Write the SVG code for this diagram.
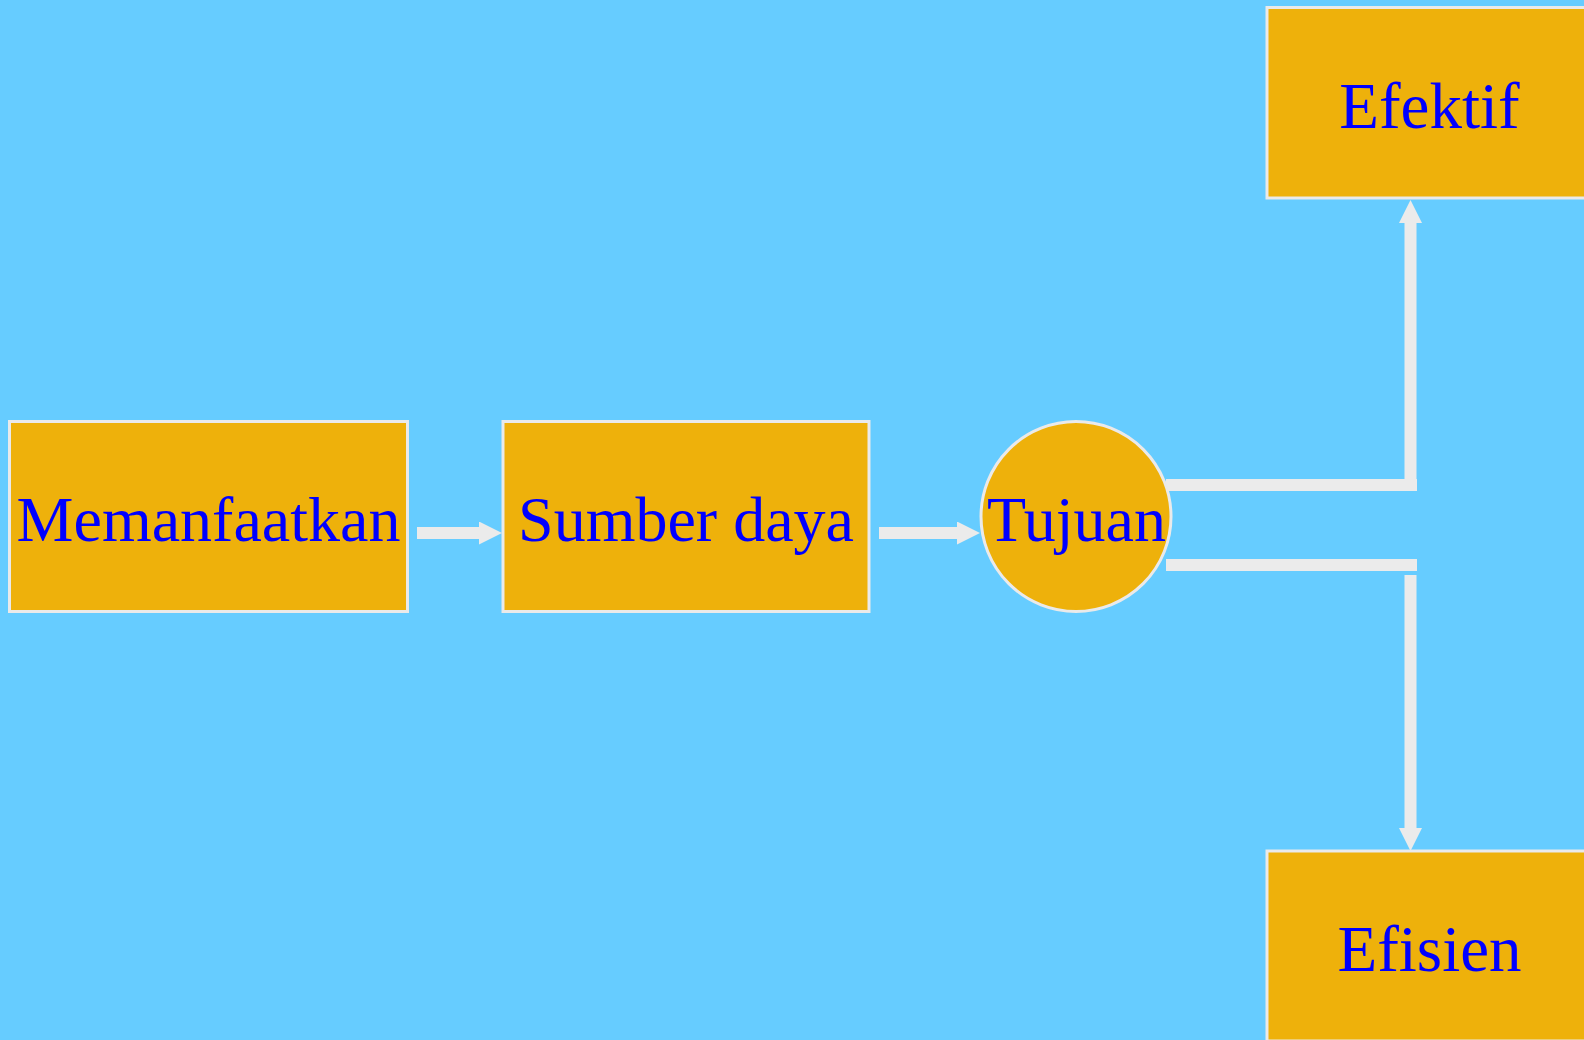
<svg xmlns="http://www.w3.org/2000/svg" width="1584" height="1040" viewBox="0 0 1584 1040">
  <style>
    .node { fill: #EEB10B; stroke: #EAEAEA; stroke-width: 3; }
    .label { font-family: "Liberation Serif", "Times New Roman", serif; font-size: 64px; fill: #0000FF; text-anchor: middle; }
    .conn { stroke: #EBEBEB; stroke-width: 12; fill: none; stroke-linecap: butt; }
  </style>
  <defs>
    <marker id="head" markerUnits="userSpaceOnUse" markerWidth="23" markerHeight="23" refX="0" refY="11.5" orient="auto">
      <path d="M0,0 L23,11.5 L0,23 z" fill="#EBEBEB"/>
    </marker>
  </defs>
  <rect x="0" y="0" width="1584" height="1040" fill="#66CCFF"/>

  <g id="connectors">
    <line class="conn" x1="417" y1="533" x2="479" y2="533" marker-end="url(#head)"/>
    <line class="conn" x1="879" y1="533" x2="957" y2="533" marker-end="url(#head)"/>
    <line class="conn" x1="1166" y1="485" x2="1417" y2="485"/>
    <line class="conn" x1="1410.5" y1="491" x2="1410.5" y2="223" marker-end="url(#head)"/>
    <line class="conn" x1="1166" y1="565" x2="1417" y2="565"/>
    <line class="conn" x1="1410.5" y1="575" x2="1410.5" y2="828" marker-end="url(#head)"/>
  </g>

  <g id="node-memanfaatkan">
    <rect class="node" x="9.5" y="421.5" width="398" height="190"/>
    <text class="label" x="208.5" y="541">Memanfaatkan</text>
  </g>
  <g id="node-sumber-daya">
    <rect class="node" x="503" y="421.5" width="366" height="190"/>
    <text class="label" x="686" y="541">Sumber daya</text>
  </g>
  <g id="node-tujuan">
    <circle class="node" cx="1076" cy="516.5" r="95"/>
    <text class="label" x="1076.5" y="541">Tujuan</text>
  </g>
  <g id="node-efektif">
    <rect class="node" x="1267" y="7.5" width="325" height="190.5"/>
    <text class="label" x="1429.5" y="128" style="font-size:65px">Efektif</text>
  </g>
  <g id="node-efisien">
    <rect class="node" x="1267" y="851" width="325" height="190"/>
    <text class="label" x="1429.5" y="971" style="font-size:65px">Efisien</text>
  </g>
</svg>
